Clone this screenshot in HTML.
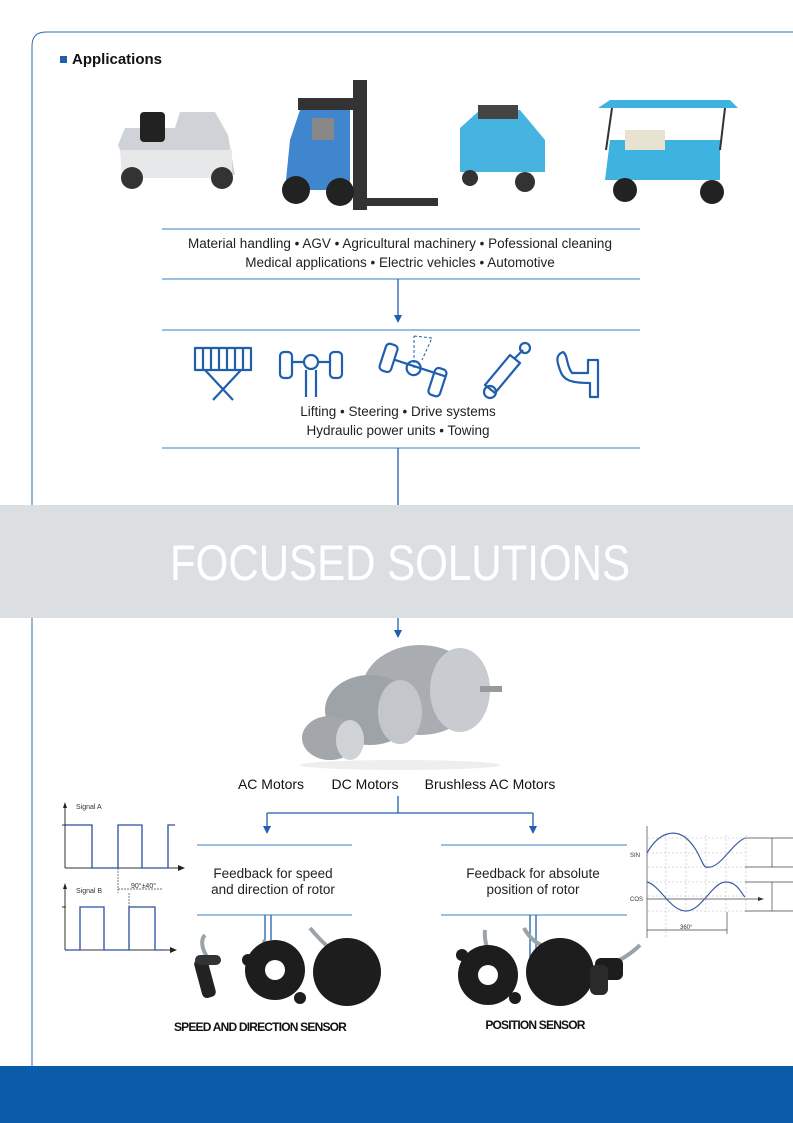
<!DOCTYPE html>
<html><head><meta charset="utf-8"><style>
html,body{margin:0;padding:0;background:#fff}
svg{display:block}
text{font-family:"Liberation Sans",sans-serif}
</style></head><body>
<svg width="793" height="1123" viewBox="0 0 793 1123" xmlns="http://www.w3.org/2000/svg">
<!-- frame -->
<path d="M32,1066 V46 Q32,32 46,32 H793" fill="none" stroke="#2d6cb0" stroke-width="1"/>
<rect x="60" y="56" width="7" height="7" fill="#1f5fae"/>
<text x="72" y="64" font-size="15" font-weight="bold" fill="#111">Applications</text>

<!-- vehicles -->
<g>
 <path d="M118,145 L125,128 H175 L180,112 H215 L228,135 L235,175 H130 Z" fill="#cfd3d7"/>
 <path d="M120,150 H232 V178 H122 Z" fill="#e6e8ea"/>
 <rect x="140" y="112" width="25" height="30" rx="4" fill="#222"/>
 <circle cx="132" cy="178" r="11" fill="#333"/><circle cx="222" cy="178" r="11" fill="#333"/>
 <rect x="353" y="80" width="14" height="130" fill="#333"/>
 <rect x="298" y="98" width="58" height="12" fill="#333"/>
 <path d="M290,140 L300,110 H350 V190 H285 Z" fill="#3f86cf"/>
 <rect x="312" y="118" width="22" height="22" fill="#888"/>
 <circle cx="296" cy="190" r="14" fill="#222"/><circle cx="340" cy="192" r="14" fill="#222"/>
 <path d="M360,198 H438 V206 H360 Z" fill="#333"/>
 <path d="M460,128 L480,110 H520 L545,140 V172 H460 Z" fill="#47b3e0"/>
 <rect x="478" y="105" width="40" height="14" fill="#444"/>
 <circle cx="470" cy="178" r="8" fill="#333"/><circle cx="525" cy="182" r="10" fill="#333"/>
 <path d="M598,108 L610,100 H730 L738,108 Z" fill="#3fb3e0"/>
 <path d="M610,140 H720 V180 H605 Z" fill="#3fb3e0"/>
 <rect x="625" y="130" width="40" height="20" fill="#e8e2d0"/>
 <circle cx="625" cy="190" r="12" fill="#222"/><circle cx="712" cy="192" r="12" fill="#222"/>
 <line x1="612" y1="108" x2="606" y2="150" stroke="#333" stroke-width="2"/><line x1="725" y1="108" x2="720" y2="150" stroke="#333" stroke-width="2"/>
</g>

<!-- apps box -->
<g stroke="#5b9bd5" stroke-width="1.3">
 <line x1="162" y1="229" x2="640" y2="229"/><line x1="162" y1="279" x2="640" y2="279"/>
 <line x1="162" y1="330" x2="640" y2="330"/><line x1="162" y1="448" x2="640" y2="448"/>
</g>
<text x="400" y="248" font-size="13.5" text-anchor="middle" fill="#222">Material handling •  AGV •  Agricultural machinery •  Pofessional cleaning</text>
<text x="400" y="267" font-size="13.5" text-anchor="middle" fill="#222">Medical applications • Electric vehicles • Automotive</text>
<line x1="398" y1="279" x2="398" y2="316" stroke="#1f5fae" stroke-width="1.3"/>
<path d="M394,315 L402,315 L398,323 Z" fill="#1f5fae"/>

<!-- icons -->
<g fill="none" stroke="#1f5fae" stroke-width="2.2" stroke-linejoin="round">
 <rect x="195" y="348" width="56" height="22"/>
 <path d="M203,348v22M211,348v22M219,348v22M227,348v22M235,348v22M243,348v22"/>
 <path d="M205,370 L233,400 M241,370 L213,400"/>
 <rect x="280" y="352" width="12" height="26" rx="4"/><rect x="330" y="352" width="12" height="26" rx="4"/>
 <path d="M292,362 H304 M318,362 H330"/><circle cx="311" cy="362" r="7"/><path d="M306,370v27 M316,370v27"/>
 <g transform="rotate(18 413 370)"><rect x="380" y="352" width="12" height="28" rx="4"/><rect x="434" y="360" width="12" height="28" rx="4"/><path d="M392,366 H446"/><circle cx="413" cy="368" r="7"/></g>
 <path d="M414,368 V336 M414,336 L432,338 L422,360" stroke-dasharray="3,2" stroke-width="1"/>
 <path d="M485,385 L510,355 L520,363 L495,393 Z"/><circle cx="490" cy="392" r="6"/><path d="M515,358 L523,350"/><circle cx="525" cy="348" r="5"/>
 <path d="M563,352 C555,355 557,362 560,370 C563,380 570,383 590,383 V397 H598 V360 H588 V373 H572 C566,365 568,355 563,352 Z"/>
</g>
<text x="398" y="416" font-size="13.5" text-anchor="middle" fill="#222">Lifting •  Steering • Drive systems</text>
<text x="398" y="435" font-size="13.5" text-anchor="middle" fill="#222">Hydraulic power units • Towing</text>
<line x1="398" y1="448" x2="398" y2="505" stroke="#1f5fae" stroke-width="1.3"/>

<!-- banner -->
<rect x="0" y="505" width="793" height="113" fill="#dcdfe2"/>
<text x="400" y="580" font-size="50" text-anchor="middle" fill="#fff" textLength="460" lengthAdjust="spacingAndGlyphs">FOCUSED SOLUTIONS</text>
<line x1="398" y1="618" x2="398" y2="631" stroke="#1f5fae" stroke-width="1.3"/>
<path d="M394,630 L402,630 L398,638 Z" fill="#1f5fae"/>

<!-- motors -->
<g>
 <ellipse cx="420" cy="690" rx="58" ry="45" fill="#a9adb2"/>
 <ellipse cx="460" cy="690" rx="30" ry="42" fill="#c8ccd0"/>
 <ellipse cx="370" cy="710" rx="45" ry="35" fill="#9ea3a8"/>
 <ellipse cx="400" cy="712" rx="22" ry="32" fill="#c3c7cb"/>
 <ellipse cx="330" cy="738" rx="28" ry="22" fill="#a3a7ac"/>
 <ellipse cx="350" cy="740" rx="14" ry="20" fill="#d0d3d6"/>
 <rect x="480" y="686" width="22" height="6" fill="#999"/>
 <ellipse cx="400" cy="765" rx="100" ry="5" fill="#eee"/>
</g>
<text x="271" y="789" font-size="14" text-anchor="middle" fill="#111">AC Motors</text>
<text x="365" y="789" font-size="14" text-anchor="middle" fill="#111">DC Motors</text>
<text x="490" y="789" font-size="14" text-anchor="middle" fill="#111">Brushless AC Motors</text>

<g stroke="#1f5fae" stroke-width="1.3" fill="none">
 <path d="M398,796 V813 M267,813 H533 M267,813 V827 M533,813 V827"/>
</g>
<path d="M263,826 L271,826 L267,834 Z M529,826 L537,826 L533,834 Z" fill="#1f5fae"/>
<g stroke="#5b9bd5" stroke-width="1.3">
 <line x1="197" y1="845" x2="352" y2="845"/><line x1="197" y1="915" x2="352" y2="915"/>
 <line x1="441" y1="845" x2="627" y2="845"/><line x1="441" y1="915" x2="627" y2="915"/>
 <line x1="265" y1="915" x2="265" y2="940" stroke="#1f5fae"/><line x1="271" y1="915" x2="271" y2="940" stroke="#1f5fae"/>
 <line x1="530" y1="915" x2="530" y2="957" stroke="#1f5fae"/><line x1="536" y1="915" x2="536" y2="957" stroke="#1f5fae"/>
</g>
<text x="273" y="878" font-size="13.5" text-anchor="middle" fill="#222">Feedback for speed</text>
<text x="273" y="894" font-size="13.5" text-anchor="middle" fill="#222">and direction of rotor</text>
<text x="533" y="878" font-size="13.5" text-anchor="middle" fill="#222">Feedback for absolute</text>
<text x="533" y="894" font-size="13.5" text-anchor="middle" fill="#222">position of rotor</text>

<!-- signals -->
<g stroke="#333" stroke-width="1" fill="none">
 <path d="M65,868 V805 M65,868 H180 M65,950 V886 M65,950 H172"/>
</g>
<path d="M63,808 L65,802 L67,808Z M63,889 L65,883 L67,889Z M178,865 L185,868 L178,871Z M170,947 L177,950 L170,953Z" fill="#222"/>
<text x="76" y="809" font-size="7" fill="#333">Signal A</text>
<text x="76" y="893" font-size="7" fill="#333">Signal B</text>
<g stroke="#2b4fa0" stroke-width="1.3" fill="none">
 <path d="M65,825 H92 V868 H118 V825 H142 V868 H168 V825 H175"/>
 <path d="M65,950 H80 V907 H104 V950 H129 V907 H155 V950 H165"/>
</g>
<path d="M118,868 V893 M129,893 V907 M118,889 H162" stroke="#444" stroke-width="0.7" fill="none" stroke-dasharray="2,1"/>
<text x="131" y="888" font-size="7" fill="#333">90°±40°</text>
<path d="M66,825h-4 M66,907h-4" stroke="#333"/>

<!-- sine chart -->
<g stroke="#bbb" stroke-width="0.6" stroke-dasharray="2,2" fill="none">
 <path d="M666,835V938 M686,835V912 M706,835V912 M726,835V912 M746,835V912 M648,838H745 M648,853H745 M648,867H745 M648,882H745 M648,896H745 M648,911H745"/>
</g>
<path d="M647,826V938 M647,899H760 M745,838H793 M745,867H793 M745,882H793 M745,911H793 M772,838V867 M772,882V911 M647,930H727 M727,912V934" stroke="#444" stroke-width="0.7" fill="none"/>
<path d="M758,897L764,899L758,901Z" fill="#333"/>
<path d="M647,853 C660,830 676,830 686,838 C700,850 702,867 706,867 C720,870 730,845 745,838" stroke="#3d5da8" stroke-width="1.2" fill="none"/>
<path d="M647,882 C660,885 670,911 686,911 C702,911 712,882 726,882 C738,882 742,895 745,897" stroke="#3d5da8" stroke-width="1.2" fill="none"/>
<text x="630" y="857" font-size="6" fill="#333">SIN</text>
<text x="630" y="901" font-size="6" fill="#333">COS</text>
<text x="680" y="929" font-size="6" fill="#333">360°</text>

<!-- sensors -->
<g>
 <path d="M205,935 C200,940 202,950 208,958" stroke="#9aa3a8" stroke-width="4" fill="none"/>
 <rect x="198" y="958" width="14" height="40" rx="5" fill="#222" transform="rotate(-15 205 978)"/>
 <rect x="195" y="955" width="26" height="10" rx="5" fill="#333"/>
 <path d="M265,940 C262,945 265,950 270,955" stroke="#9aa3a8" stroke-width="4" fill="none"/>
 <circle cx="275" cy="970" r="30" fill="#1d1d1d"/><circle cx="275" cy="970" r="10" fill="#fff"/>
 <circle cx="248" cy="960" r="6" fill="#1d1d1d"/><circle cx="300" cy="998" r="6" fill="#1d1d1d"/>
 <path d="M310,928 C320,940 330,950 340,955" stroke="#9aa3a8" stroke-width="4" fill="none"/>
 <circle cx="347" cy="972" r="34" fill="#1d1d1d"/>
 <path d="M485,930 C484,940 487,948 490,955" stroke="#9aa3a8" stroke-width="4" fill="none"/>
 <circle cx="488" cy="975" r="30" fill="#1d1d1d"/><circle cx="488" cy="975" r="10" fill="#fff"/>
 <circle cx="462" cy="955" r="6" fill="#1d1d1d"/><circle cx="515" cy="998" r="6" fill="#1d1d1d"/>
 <path d="M524,928 C530,940 540,945 550,950" stroke="#9aa3a8" stroke-width="4" fill="none"/>
 <circle cx="560" cy="972" r="34" fill="#1d1d1d"/>
 <path d="M640,945 C630,955 620,960 610,965" stroke="#9aa3a8" stroke-width="4" fill="none"/>
 <rect x="595" y="958" width="28" height="22" rx="6" fill="#1d1d1d"/><rect x="590" y="965" width="18" height="30" rx="6" fill="#2a2a2a"/>
</g>
<text x="260" y="1031" font-size="12" font-weight="bold" text-anchor="middle" fill="#111" letter-spacing="-0.8">SPEED AND DIRECTION SENSOR</text>
<text x="535" y="1029" font-size="12" font-weight="bold" text-anchor="middle" fill="#111" letter-spacing="-0.8">POSITION SENSOR</text>

<rect x="0" y="1066" width="793" height="57" fill="#0a5ca8"/>
</svg>
</body></html>
